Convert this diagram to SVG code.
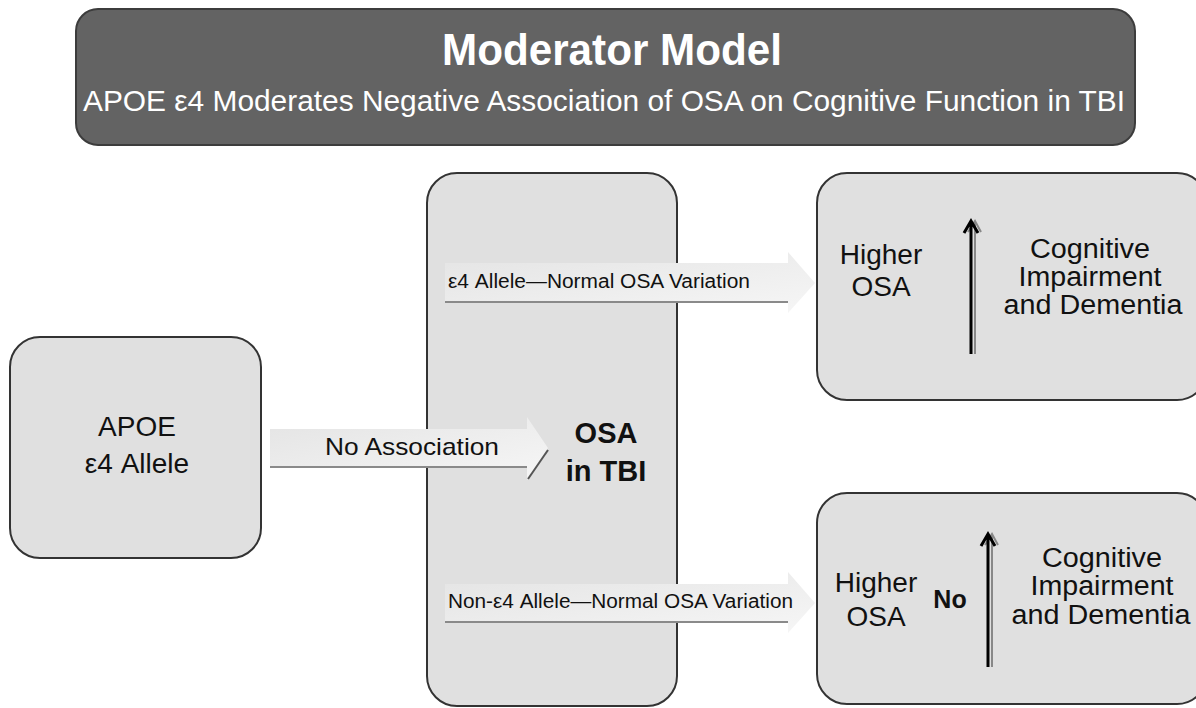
<svg xmlns="http://www.w3.org/2000/svg" width="1196" height="708" viewBox="0 0 1196 708">
<style>
  .box{fill:#e0e0e0;stroke:#333;stroke-width:2}
  .t{font-family:"Liberation Sans",Arial,sans-serif;fill:#111}
  .b{font-weight:bold}
  .w{fill:#fff}
  .arr{fill:url(#ag)}
  .edge{stroke:#8a8a8a;stroke-width:2;fill:none}
  .vk{stroke:#000;stroke-width:3;fill:none}
  .vg{stroke:#888;stroke-width:2;fill:none}
</style>
<defs>
  <linearGradient id="ag" x1="0" y1="0" x2="1" y2="1">
    <stop offset="0" stop-color="#e4e4e4"/>
    <stop offset="1" stop-color="#f6f6f6"/>
  </linearGradient>
</defs>
<rect width="1196" height="708" fill="#fff"/>

<g id="banner">
  <rect x="76" y="9" width="1059" height="136" rx="22" fill="#636363" stroke="#3c3c3c" stroke-width="2"/>
  <text class="t b w" x="612" y="65" font-size="44" text-anchor="middle" textLength="340" lengthAdjust="spacingAndGlyphs">Moderator Model</text>
  <text class="t w" x="604" y="111" font-size="29" text-anchor="middle" textLength="1042" lengthAdjust="spacingAndGlyphs">APOE ε4 Moderates Negative Association of OSA on Cognitive Function in TBI</text>
</g>

<g id="apoe">
  <rect class="box" x="10" y="337" width="251" height="221" rx="30"/>
  <text class="t" x="137" y="436" font-size="28" text-anchor="middle">APOE</text>
  <text class="t" x="137" y="473" font-size="28" text-anchor="middle">ε4 Allele</text>
</g>

<g id="osa">
  <rect class="box" x="427" y="173" width="250" height="533" rx="30"/>
  <text class="t b" x="606" y="443" font-size="29" text-anchor="middle">OSA</text>
  <text class="t b" x="606" y="481" font-size="29" text-anchor="middle">in TBI</text>
</g>

<g id="outcome-e4">
  <rect class="box" x="817" y="173" width="390" height="227" rx="30"/>
  <text class="t" x="881" y="264" font-size="28" text-anchor="middle">Higher</text>
  <text class="t" x="881" y="296" font-size="28" text-anchor="middle">OSA</text>
  <text class="t" x="1090" y="258" font-size="27" text-anchor="middle" textLength="120" lengthAdjust="spacingAndGlyphs">Cognitive</text>
  <text class="t" x="1090" y="286" font-size="27" text-anchor="middle" textLength="143" lengthAdjust="spacingAndGlyphs">Impairment</text>
  <text class="t" x="1093" y="314" font-size="27" text-anchor="middle" textLength="179" lengthAdjust="spacingAndGlyphs">and Dementia</text>
  <path class="vg" d="M975,354 V222 M968,232 L975,221 L981,232"/>
  <path class="vk" d="M971,354 V222 M964,233 L971,221 L978,233"/>
</g>

<g id="outcome-non">
  <rect class="box" x="817" y="493" width="390" height="211" rx="30"/>
  <text class="t" x="876" y="592" font-size="28" text-anchor="middle">Higher</text>
  <text class="t" x="876" y="626" font-size="28" text-anchor="middle">OSA</text>
  <text class="t b" x="950" y="608" font-size="25" text-anchor="middle">No</text>
  <text class="t" x="1102" y="567" font-size="27" text-anchor="middle" textLength="120" lengthAdjust="spacingAndGlyphs">Cognitive</text>
  <text class="t" x="1102" y="595" font-size="27" text-anchor="middle" textLength="143" lengthAdjust="spacingAndGlyphs">Impairment</text>
  <text class="t" x="1101" y="624" font-size="27" text-anchor="middle" textLength="179" lengthAdjust="spacingAndGlyphs">and Dementia</text>
  <path class="vg" d="M992,667 V535 M985,545 L992,534 L998,545"/>
  <path class="vk" d="M988,667 V535 M981,546 L988,534 L995,546"/>
</g>

<g id="connectors">
  <g id="no-association">
    <polygon class="arr" points="270,429 527,429 527,417 548,448 527,480 527,467 270,467"/>
    <line class="edge" x1="270" y1="467" x2="527" y2="467" stroke="#555"/>
    <line x1="548" y1="450" x2="528" y2="479" stroke="#555" stroke-width="2"/>
    <text class="t" x="325" y="455" font-size="24" textLength="174" lengthAdjust="spacingAndGlyphs">No Association</text>
  </g>
  <g id="e4-variation">
    <polygon class="arr" points="445,263 788,263 788,252 815,283 788,313 788,302 445,302"/>
    <line class="edge" x1="445" y1="302" x2="788" y2="302"/>
    <text class="t" x="448" y="288" font-size="20" textLength="302" lengthAdjust="spacingAndGlyphs">ε4 Allele—Normal OSA Variation</text>
  </g>
  <g id="non-e4-variation">
    <polygon class="arr" points="445,584 788,584 788,572 815,603 788,633 788,622 445,622"/>
    <line class="edge" x1="445" y1="622" x2="788" y2="622"/>
    <text class="t" x="448" y="608" font-size="20" textLength="345" lengthAdjust="spacingAndGlyphs">Non-ε4 Allele—Normal OSA Variation</text>
  </g>
</g>
</svg>
